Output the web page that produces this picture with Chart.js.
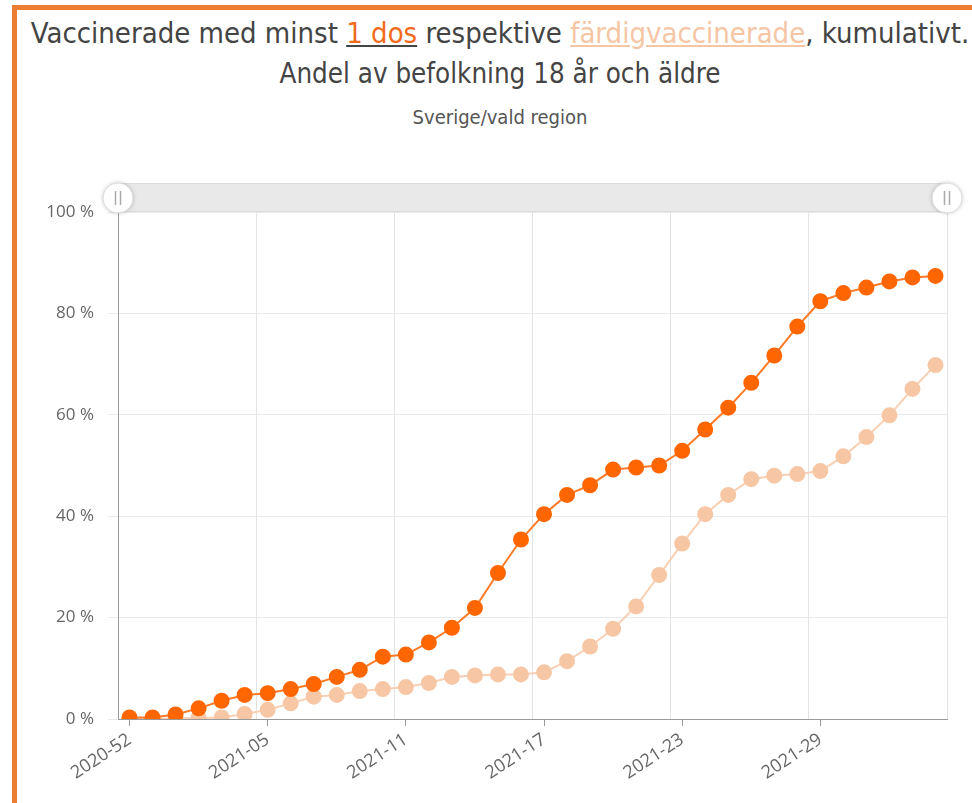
<!DOCTYPE html>
<html>
<head>
<meta charset="utf-8">
<script src="https://cdn.jsdelivr.net/npm/chart.js@4.4.0/dist/chart.umd.min.js"></script>
<style>
  html, body { margin:0; padding:0; background:#fff; }
  body { width:972px; height:803px; overflow:hidden; position:relative; }
  .frame-top { position:absolute; left:12px; top:5px; width:960px; height:5px; background:#ed7d31; }
  .frame-left { position:absolute; left:12px; top:5px; width:5px; height:798px; background:#ed7d31; }
  .title { position:absolute; left:0; width:1000px; text-align:center; color:#444; line-height:1;
           font-family:"Liberation Sans Narrow","DejaVu Sans Condensed",sans-serif; white-space:nowrap; }
  #t1 { top:19px; font-size:29px; }
  #t2 { top:60px; font-size:27.5px; }
  #t3 { top:107px; font-size:20px; color:#555; }
  .dos { color:#f26a1b; text-decoration:underline; text-decoration-color:#444; }
  .fard { color:#f6c6a4; text-decoration:underline; }
  #wrap { position:absolute; left:0; top:150px; width:972px; height:653px; }
</style>
</head>
<body>
<div class="frame-top"></div>
<div class="frame-left"></div>
<div class="title" id="t1">Vaccinerade med minst <span class="dos">1 dos</span> respektive <span class="fard">färdigvaccinerade</span>, kumulativt.</div>
<div class="title" id="t2">Andel av befolkning 18 år och äldre</div>
<div class="title" id="t3">Sverige/vald region</div>
<div id="wrap"><canvas id="chart"></canvas></div>
<script>
// weeks 2020-52 .. 2021-34
const weeks = ["2020-52","2020-53","2021-01","2021-02","2021-03","2021-04","2021-05","2021-06",
  "2021-07","2021-08","2021-09","2021-10","2021-11","2021-12","2021-13","2021-14","2021-15",
  "2021-16","2021-17","2021-18","2021-19","2021-20","2021-21","2021-22","2021-23","2021-24",
  "2021-25","2021-26","2021-27","2021-28","2021-29","2021-30","2021-31","2021-32","2021-33","2021-34"];
const labelWeeks = ["2020-52","2021-05","2021-11","2021-17","2021-23","2021-29"];
const yTicks = [0,20,40,60,80,100];

// % with at least one dose
const oneDose = [0.3,0.3,0.9,2.1,3.6,4.75,5.1,5.9,6.9,8.3,9.7,12.3,12.7,15.1,18.0,21.9,28.8,35.4,
  40.4,44.2,46.1,49.2,49.6,50.0,52.9,57.1,61.4,66.3,71.7,77.4,82.4,84.0,85.1,86.3,87.1,87.4];
// % fully vaccinated
const fully = [0,0,0.1,0.2,0.3,1.0,1.8,3.1,4.4,4.75,5.5,5.9,6.3,7.1,8.3,8.6,8.8,8.8,
  9.2,11.4,14.3,17.8,22.2,28.4,34.6,40.4,44.2,47.3,48.0,48.3,48.9,51.8,55.6,59.9,65.1,69.8];

const labelIdx = labelWeeks.map(w => weeks.indexOf(w));
const gridIdx = labelIdx.map(i => i - 0.5).concat([weeks.length - 0.5]);

// range slider look-alike on top of the plot
const sliderPlugin = {
  id: "slider",
  afterDraw(chart){
    const {ctx, chartArea:a} = chart;
    ctx.save();
    ctx.fillStyle = "#e9e9e9";
    ctx.strokeStyle = "#dcdcdc";
    ctx.fillRect(a.left, a.top - 29, a.right - a.left, 29);
    ctx.strokeRect(a.left + 0.5, a.top - 28.5, a.right - a.left - 1, 28);
    [a.left, a.right].forEach(x => {
      ctx.beginPath();
      ctx.arc(x, a.top - 14, 15, 0, Math.PI*2);
      ctx.shadowColor = "rgba(0,0,0,0.25)";
      ctx.shadowBlur = 4;
      ctx.fillStyle = "#fff";
      ctx.fill();
      ctx.shadowBlur = 0;
      ctx.strokeStyle = "#ddd";
      ctx.stroke();
      ctx.strokeStyle = "#aaa";
      ctx.lineWidth = 1.5;
      ctx.beginPath();
      ctx.moveTo(x - 2.5, a.top - 21); ctx.lineTo(x - 2.5, a.top - 7);
      ctx.moveTo(x + 2.5, a.top - 21); ctx.lineTo(x + 2.5, a.top - 7);
      ctx.stroke();
      ctx.lineWidth = 1;
    });
    ctx.restore();
  }
};

new Chart(document.getElementById("chart"), {
  type: "line",
  data: {
    datasets: [{
      label: "1 dos",
      data: oneDose.map((v,i) => ({x:i, y:v})),
      borderColor: "#ff7a26",
      backgroundColor: "#ff6600",
      pointBackgroundColor: "#ff6600",
      pointBorderColor: "#ff6600",
      pointRadius: 7,
      borderWidth: 2,
      tension: 0
    },{
      label: "färdigvaccinerade",
      data: fully.map((v,i) => ({x:i, y:v})),
      borderColor: "#f8cfb3",
      backgroundColor: "#f7c7a5",
      pointBackgroundColor: "#f7c7a5",
      pointBorderColor: "#f7c7a5",
      pointRadius: 7,
      borderWidth: 2,
      tension: 0
    }]
  },
  options: {
    responsive: true,
    maintainAspectRatio: false,
    animation: false,
    layout: { padding: { top: 62, right: 25, left: 0, bottom: 0 } },
    plugins: { legend: { display:false }, tooltip: { enabled:false } },
    scales: {
      x: {
        type: "linear",
        min: -0.5, max: weeks.length - 0.5,
        afterBuildTicks: s => { s.ticks = labelIdx.map(v => ({value:v})); },
        afterFit: s => { s.height = 84; },
        ticks: {
          callback: v => weeks[v],
          minRotation: 33, maxRotation: 33,
          color: "#666",
          font: { family: "'Open Sans', sans-serif", size: 18 }
        },
        grid: { drawOnChartArea:false, tickLength:7, color:"#999" },
        border: { color:"#999" }
      },
      xg: {
        type: "linear",
        position: "bottom",
        min: -0.5, max: weeks.length - 0.5,
        afterBuildTicks: s => { s.ticks = gridIdx.map(v => ({value:v})); },
        afterFit: s => { s.height = 0; },
        ticks: { display:false },
        grid: { color:"#e3e3e3", drawTicks:false },
        border: { display:false }
      },
      y: {
        min: 0, max: 100,
        afterBuildTicks: s => { s.ticks = yTicks.map(v => ({value:v})); },
        afterFit: s => { s.width = 118; },
        ticks: {
          callback: v => v + " %",
          color: "#666",
          padding: 14,
          font: { family: "'Open Sans', sans-serif", size: 17 }
        },
        grid: { color:"#eaeaea", tickLength:10 },
        border: { color:"#999" }
      }
    }
  },
  plugins: [sliderPlugin]
});
</script>
</body>
</html>
